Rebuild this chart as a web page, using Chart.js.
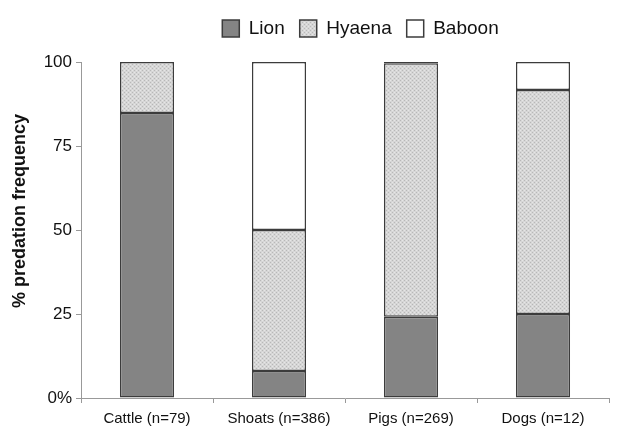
<!DOCTYPE html>
<html>
<head>
<meta charset="utf-8">
<script src="https://cdn.jsdelivr.net/npm/chart.js@4"></script>
<style>
  html, body { margin: 0; padding: 0; background: #fff; }
  #wrap { width: 629px; height: 427px; }
</style>
</head>
<body>
<div id="wrap"><canvas id="grafico" width="629" height="427"></canvas></div>
<script>
const categorias = ["Cattle (n=79)", "Shoats (n=386)", "Pigs (n=269)", "Dogs (n=12)"];
const leao = [84.8, 8, 24.2, 25];
const hiena = [15.2, 42, 75.4, 66.7];
const babuino = [0, 50, 0.4, 8.3];
const ticksY = [0, 25, 50, 75, 100];
const tituloY = "% predation frequency";

// textura pontilhada da hiena
function padraoHiena() {
  const c = document.createElement("canvas");
  c.width = 4; c.height = 4;
  const g = c.getContext("2d");
  g.fillStyle = "#d6d6d6";
  g.fillRect(0, 0, 4, 4);
  g.fillStyle = "#b8b8b8";
  g.fillRect(0, 0, 1, 1);
  g.fillRect(2, 2, 1, 1);
  g.fillStyle = "#e6e6e6";
  g.fillRect(2, 0, 1, 1);
  g.fillRect(0, 2, 1, 1);
  return g.createPattern(c, "repeat");
}

const fonte = "'Liberation Sans', Arial, sans-serif";
const borda = "#3c3c3c";

// altura fixa da legenda, legenda deslocada, titulo do eixo y um pouco acima do centro
const ajustes = {
  id: "ajustes",
  beforeLayout(chart) {
    const lg = chart.legend;
    if (lg && !lg._fitFixo) {
      const fit = lg.fit, draw = lg.draw;
      lg.fit = function () { fit.call(this); this.height = 62; };
      lg.draw = function () {
        const c = this.ctx;
        c.save();
        c.translate(56, 4);
        draw.call(this);
        c.restore();
      };
      lg._fitFixo = true;
    }
  },
  afterDraw(chart) {
    const ctx = chart.ctx;
    ctx.save();
    ctx.translate(20, 211);
    ctx.rotate(-Math.PI / 2);
    ctx.font = "bold 18px " + fonte;
    ctx.fillStyle = "#111";
    ctx.textAlign = "center";
    ctx.textBaseline = "middle";
    ctx.fillText(tituloY, 0, 0);
    ctx.restore();
  }
};

new Chart(document.getElementById("grafico").getContext("2d"), {
  type: "bar",
  data: {
    labels: categorias,
    datasets: [
      { label: "Lion", data: leao, backgroundColor: "#848484", borderColor: borda, borderWidth: 1.5, borderSkipped: false },
      { label: "Hyaena", data: hiena, backgroundColor: padraoHiena(), borderColor: borda, borderWidth: 1.5, borderSkipped: false },
      { label: "Baboon", data: babuino, backgroundColor: "#ffffff", borderColor: borda, borderWidth: 1.5, borderSkipped: false }
    ]
  },
  plugins: [ajustes],
  options: {
    responsive: false,
    animation: false,
    layout: { padding: { top: 0, right: 20, left: 0, bottom: 0 } },
    datasets: { bar: { categoryPercentage: 1, barPercentage: 0.41 } },
    plugins: {
      tooltip: { enabled: false },
      legend: {
        position: "top",
        labels: {
          boxWidth: 17, boxHeight: 17, padding: 15,
          color: "#111", font: { family: fonte, size: 19 }
        }
      }
    },
    scales: {
      x: {
        stacked: true,
        afterFit: ax => { ax.height = 29; },
        border: { color: "#999", width: 1 },
        grid: { display: true, drawOnChartArea: false, drawTicks: true, tickLength: 5, color: "#999" },
        ticks: { color: "#111", font: { family: fonte, size: 15 }, padding: 7, maxRotation: 0 }
      },
      y: {
        stacked: true,
        min: 0, max: 100,
        afterBuildTicks: ax => { ax.ticks = ticksY.map(v => ({ value: v })); },
        afterFit: ax => { ax.width = 81; },
        border: { color: "#999", width: 1 },
        grid: { display: true, drawOnChartArea: false, drawTicks: true, tickLength: 5, color: "#999" },
        ticks: {
          color: "#111", font: { family: fonte, size: 17 }, padding: 4,
          callback: v => v === 0 ? "0%" : v
        }
      }
    }
  }
});
</script>
</body>
</html>
